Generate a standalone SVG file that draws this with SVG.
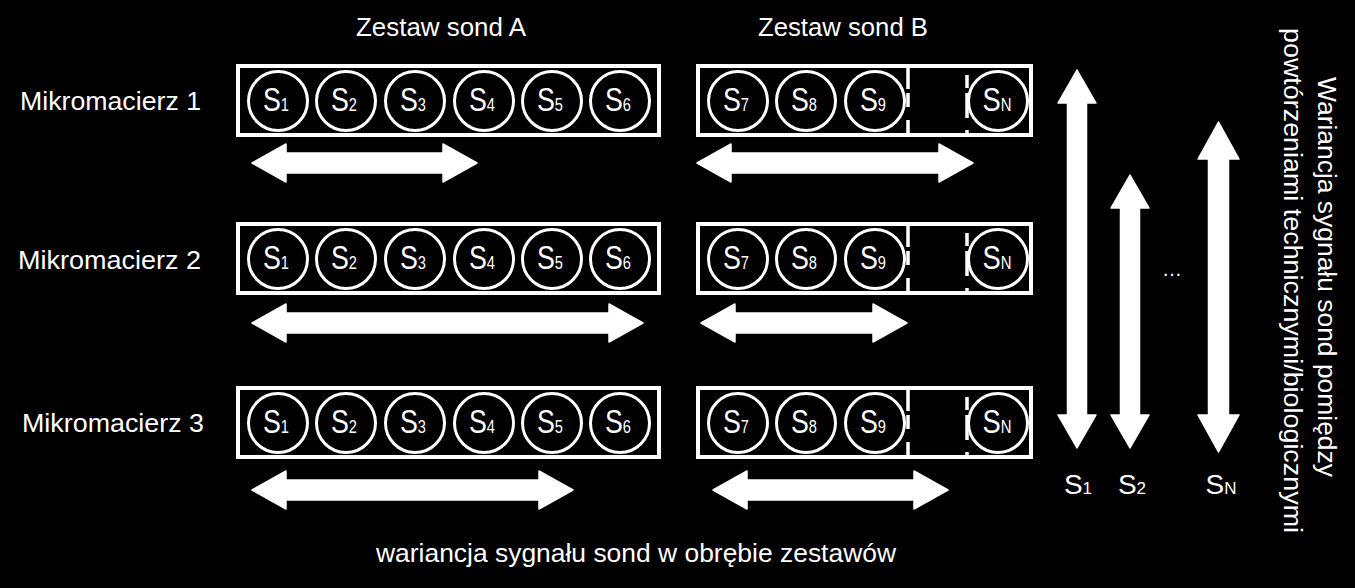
<svg xmlns="http://www.w3.org/2000/svg" width="1355" height="588" viewBox="0 0 1355 588">
<style>
  text { font-family: "Liberation Sans", Arial, sans-serif; fill: #fff; }
  .lbl { font-size: 26px; }
  .box { fill: none; stroke: #fff; stroke-width: 4; }
  .probe { fill: none; stroke: #fff; stroke-width: 3; }
  .dash { fill: none; stroke: #fff; stroke-width: 3.5; }
  .s { font-size: 33px; text-anchor: middle; }
  .s tspan { font-size: 18px; }
  .arrow { fill: #fff; stroke: #fff; stroke-width: 1.5; stroke-linejoin: round; }
  .vs { font-size: 28px; text-anchor: middle; }
  .vs tspan { font-size: 17px; }
</style>
<defs>
  <g id="setA">
    <rect class="box" x="238" y="-35" width="421" height="69"/>
    <circle class="probe" cx="278" cy="0" r="29.5"/>
    <circle class="probe" cx="346" cy="0" r="29.5"/>
    <circle class="probe" cx="415" cy="0" r="29.5"/>
    <circle class="probe" cx="484" cy="0" r="29.5"/>
    <circle class="probe" cx="552" cy="0" r="29.5"/>
    <circle class="probe" cx="620" cy="0" r="29.5"/>
    <text class="s" x="276" y="10" textLength="26" lengthAdjust="spacingAndGlyphs">S<tspan>1</tspan></text>
    <text class="s" x="344" y="10" textLength="26" lengthAdjust="spacingAndGlyphs">S<tspan>2</tspan></text>
    <text class="s" x="413" y="10" textLength="26" lengthAdjust="spacingAndGlyphs">S<tspan>3</tspan></text>
    <text class="s" x="482" y="10" textLength="26" lengthAdjust="spacingAndGlyphs">S<tspan>4</tspan></text>
    <text class="s" x="550" y="10" textLength="26" lengthAdjust="spacingAndGlyphs">S<tspan>5</tspan></text>
    <text class="s" x="618" y="10" textLength="26" lengthAdjust="spacingAndGlyphs">S<tspan>6</tspan></text>
  </g>
  <g id="setB">
    <rect class="box" x="698" y="-35" width="333" height="69"/>
    <circle class="probe" cx="738" cy="0" r="29.5"/>
    <circle class="probe" cx="806" cy="0" r="29.5"/>
    <circle class="probe" cx="875" cy="0" r="29.5"/>
    <circle class="probe" cx="998" cy="0" r="29.5"/>
    <path class="dash" d="M908 -35V-12M908 -8V6M908 19V34"/>
    <path class="dash" d="M967 -26V-13M967 -8V17M967 29V34"/>
    <text class="s" x="736" y="10" textLength="26" lengthAdjust="spacingAndGlyphs">S<tspan>7</tspan></text>
    <text class="s" x="804" y="10" textLength="26" lengthAdjust="spacingAndGlyphs">S<tspan>8</tspan></text>
    <text class="s" x="873" y="10" textLength="26" lengthAdjust="spacingAndGlyphs">S<tspan>9</tspan></text>
    <text class="s" x="997" y="10" textLength="29" lengthAdjust="spacingAndGlyphs">S<tspan>N</tspan></text>
  </g>
</defs>
<rect x="0" y="0" width="1355" height="588" fill="#000"/>

<g id="header-A"><text class="lbl" x="356" y="36" textLength="170" lengthAdjust="spacingAndGlyphs">Zestaw sond A</text></g>
<g id="header-B"><text class="lbl" x="758" y="36" textLength="170" lengthAdjust="spacingAndGlyphs">Zestaw sond B</text></g>

<g id="row1">
  <text class="lbl" x="20" y="110" textLength="181" lengthAdjust="spacingAndGlyphs">Mikromacierz 1</text>
  <use href="#setA" transform="translate(0,101)"/>
  <use href="#setB" transform="translate(0,101)"/>
</g>
<g id="row2">
  <text class="lbl" x="18" y="269" textLength="183" lengthAdjust="spacingAndGlyphs">Mikromacierz 2</text>
  <use href="#setA" transform="translate(0,259)"/>
  <use href="#setB" transform="translate(0,259)"/>
</g>
<g id="row3">
  <text class="lbl" x="22" y="432" textLength="182" lengthAdjust="spacingAndGlyphs">Mikromacierz 3</text>
  <use href="#setA" transform="translate(0,423)"/>
  <use href="#setB" transform="translate(0,423)"/>
</g>

<g id="connectors">
  <!-- horizontal double arrows -->
  <path class="arrow" d="M252 163L286 144V153H443V144L477 163L443 182V173H286V182Z"/>
  <path class="arrow" d="M697 163L731 144V153H939V144L973 163L939 182V173H731V182Z"/>
  <path class="arrow" d="M252 323L286 304V313H609V304L643 323L609 342V333H286V342Z"/>
  <path class="arrow" d="M701 323L735 304V313H873V304L907 323L873 342V333H735V342Z"/>
  <path class="arrow" d="M252 490L286 471V480H539V471L573 490L539 509V500H286V509Z"/>
  <path class="arrow" d="M713 490L747 471V480H914V471L948 490L914 509V500H747V509Z"/>
  <!-- vertical double arrows -->
  <path class="arrow" d="M1077 70L1096 103H1086.5V415H1096L1077 448L1058 415H1067.5V103H1058Z"/>
  <path class="arrow" d="M1130 175L1149 208H1139.5V415H1149L1130 448L1111 415H1120.5V208H1111Z"/>
  <path class="arrow" d="M1218.5 122L1239 159H1228.5V415H1239L1218.5 452L1198 415H1208.5V159H1198Z"/>
</g>

<g id="vlabels">
  <text class="vs" x="1078" y="494">S<tspan>1</tspan></text>
  <text class="vs" x="1132" y="494">S<tspan>2</tspan></text>
  <text class="vs" x="1221" y="494">S<tspan>N</tspan></text>
  <text class="lbl" x="1172" y="276" text-anchor="middle" style="font-size:20px">…</text>
</g>

<g id="vertical-title">
  <text class="lbl" transform="translate(1318,77) rotate(90)" textLength="400" lengthAdjust="spacingAndGlyphs">Wariancja sygnału sond pomiędzy</text>
  <text class="lbl" transform="translate(1284,28) rotate(90)" textLength="505" lengthAdjust="spacingAndGlyphs">powtórzeniami technicznymi/biologicznymi</text>
</g>

<g id="bottom-label">
  <text class="lbl" x="376" y="562" textLength="520" lengthAdjust="spacingAndGlyphs">wariancja sygnału sond w obrębie zestawów</text>
</g>
</svg>
